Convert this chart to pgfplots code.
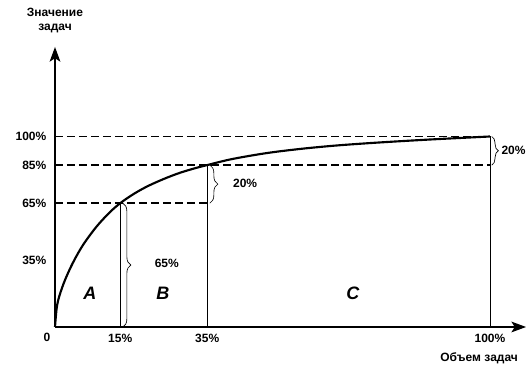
\documentclass[border=0pt]{standalone}
\usepackage{pgfplots}
\pgfplotsset{compat=1.18}
\usepackage{fontspec}
\setmainfont{Liberation Sans}
\usetikzlibrary{arrows.meta,decorations.pathreplacing}
\begin{document}
\begin{tikzpicture}[font=\fontsize{9}{10.8}\selectfont\bfseries]
\useasboundingbox (0,0) rectangle (394.5pt,280.5pt);
\begin{axis}[
  at={(41.25pt,35.25pt)}, anchor=south west,
  x=3.2625pt, y=1.4288pt,
  xmin=0, xmax=108.3, ymin=0, ymax=147,
  axis lines=left,
  axis line style={line width=1.3pt, -{Stealth[length=11pt,width=8pt,inset=2.5pt]}},
  major tick length=0pt, tick style={draw=none},
  xtick={15,35,100}, xticklabels={15\%,35\%,100\%},
  ytick={35,65,85,100}, yticklabels={35\%,65\%,85\%,100\%},
  tick label style={font=\fontsize{9}{10.8}\selectfont\bfseries},
  x tick label style={yshift=-1.5pt},
  y tick label style={xshift=-3pt},
  /pgf/number format/assume math mode=true,
  clip=false,
]
% curve
\addplot[line width=1.6pt, smooth, tension=0.55] coordinates {
 (0,0) (0.39,9.9) (0.98,16.1) (2.27,24.5) (4.16,33.9) (6.43,43.0) (9.48,52.5) (12.5,60.0)
 (15,65) (18,69.7) (21.2,73.8) (25,77.7) (28.8,81.0) (32.6,83.6) (35,85)
 (40.6,88.1) (48.4,91.2) (56.1,93.4) (63.8,95.1) (71.5,96.4) (79.2,97.5) (86.9,98.5) (94.7,99.4) (100,100)};
% dashed guides
\addplot[line width=1pt, dash pattern=on 6pt off 3pt] coordinates {(0,65) (35,65)};
\addplot[line width=1pt, dash pattern=on 6pt off 3pt] coordinates {(0,85) (100,85)};
\addplot[line width=1pt, dash pattern=on 6pt off 3pt] coordinates {(0,100) (100,100)};
% vertical lines
\addplot[line width=0.6pt] coordinates {(15,0) (15,65)};
\addplot[line width=0.6pt] coordinates {(35,0) (35,85)};
\addplot[line width=0.6pt] coordinates {(100,0) (100,100)};
% braces
\draw[line width=0.5pt, decorate, decoration={brace, amplitude=6pt}] (axis cs:15.6,65) -- (axis cs:15.6,0);
\draw[line width=0.5pt, decorate, decoration={brace, amplitude=6pt}] (axis cs:35.6,85) -- (axis cs:35.6,65);
\draw[line width=0.5pt, decorate, decoration={brace, amplitude=5pt}] (axis cs:100.4,100) -- (axis cs:100.4,85);
\node at (axis cs:25.7,33.6) {65\%};
\node at (axis cs:43.7,75.2) {20\%};
\node[anchor=west, inner sep=0pt] at (axis cs:102.6,92.9) {20\%};
% region letters
\node[font=\fontsize{13.5}{16}\selectfont\bfseries\itshape] at (axis cs:8,17.5) {A};
\node[font=\fontsize{13.5}{16}\selectfont\bfseries\itshape] at (axis cs:24.8,17.5) {B};
\node[font=\fontsize{13.5}{16}\selectfont\bfseries\itshape] at (axis cs:68.5,17.5) {C};
% labels
\node at (axis cs:-1.84,-5.3) {0};
\node[anchor=south, align=center, font=\fontsize{9}{11}\selectfont\bfseries] at (axis cs:0,151.7) {Значение\\задач};
\node[font=\fontsize{9}{11}\selectfont\bfseries] at (axis cs:97.5,-16.3) {Объем задач};
\end{axis}
\end{tikzpicture}
\end{document}
